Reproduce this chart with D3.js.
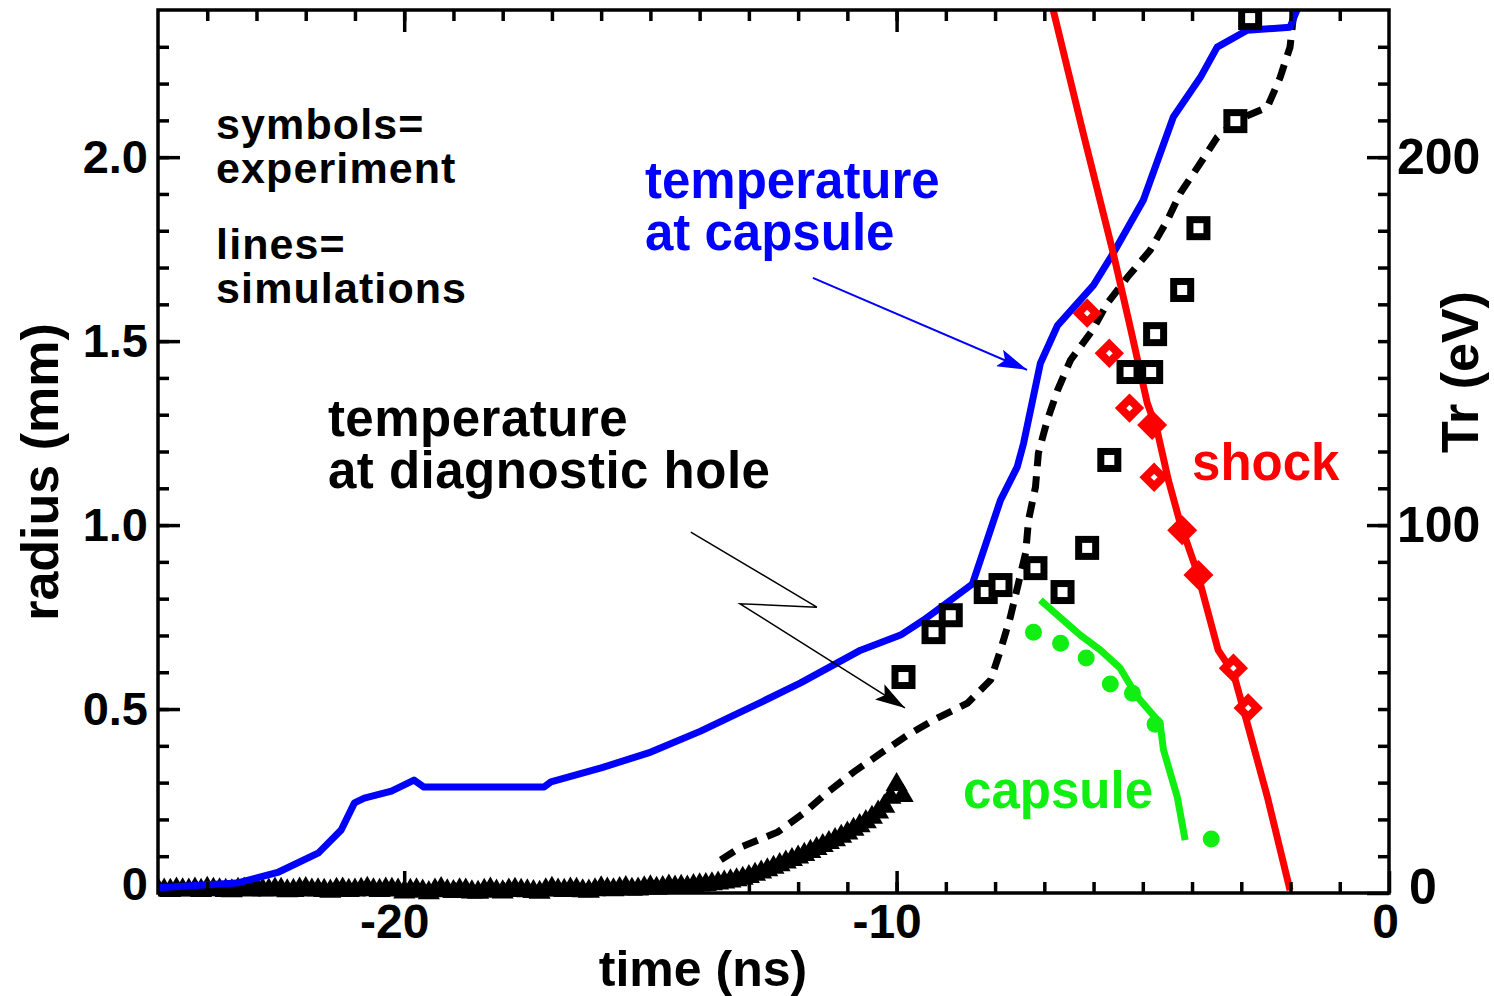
<!DOCTYPE html>
<html><head><meta charset="utf-8">
<script src="https://cdn.jsdelivr.net/npm/d3@7"></script>
<style>
body{margin:0;background:#fff}
svg{display:block}
text{font-family:"Liberation Sans",Arial,Helvetica,sans-serif;font-weight:bold}
</style>
</head><body>
<svg id="chart" width="1494" height="996"></svg>
<script>
// ---------------- data ----------------
// simulated radiation temperature at capsule (blue, Tr eV)
const capTime = [-25.0,-23.4,-22.55,-21.74,-21.28,-21.01,-20.81,-20.26,-19.8,-19.6,-18.38,-17.16,-17.02,-16.0,-14.99,-13.98,-12.96,-11.95,-10.73,-9.92,-9.45,-8.46,-7.89,-7.55,-7.42,-7.08,-6.73,-6.0,-5.6,-4.99,-4.38,-3.83,-3.49,-2.88,-2.01,-1.81];
const capTr   = [1.4,2.7,5.7,10.9,17.1,24.5,25.8,27.7,30.7,28.8,28.8,28.8,30.2,34.0,38.3,44.0,50.5,57.1,66.0,70.1,74.2,84.0,106.8,115.8,122.3,144.0,154.3,165.2,173.9,188.3,210.9,221.7,229.9,234.5,235.3,242];
// simulated temperature at diagnostic hole (black dashed, Tr eV)
const holeTime = [-13.57,-13.16,-12.41,-11.89,-11.40,-10.87,-10.32,-9.78,-9.25,-8.56,-8.09,-7.89,-7.69,-7.38,-7.32,-7.18,-7.12,-6.94,-6.73,-6.47,-6.02,-5.72,-5.31,-4.85,-4.50,-4.24,-3.83,-3.49,-3.08,-2.47,-2.21,-2.01,-1.91];
const holeTr   = [9.0,12.5,16.6,21.7,27.4,32.9,38.0,42.9,47.0,51.6,57.9,66.0,75.0,92.4,101.4,110.3,119.6,128.5,136.7,144.8,153.0,160.3,167.4,174.7,182.9,190.2,198.4,205.4,210.1,213.6,221.7,229.9,242];
// measured temperature at diagnostic hole (black triangles, Tr eV), every 0.125 ns
const triTime = [-25.0,-24.875,-24.75,-24.625,-24.5,-24.375,-24.25,-24.125,-24.0,-23.875,
                 -23.75,-23.625,-23.5,-23.375,-23.25,-23.125,-23.0,-22.875,-22.75,-22.625,
                 -22.5,-22.375,-22.25,-22.125,-22.0,-21.875,-21.75,-21.625,-21.5,-21.375,
                 -21.25,-21.125,-21.0,-20.875,-20.75,-20.625,-20.5,-20.375,-20.25,-20.125,
                 -20.0,-19.875,-19.75,-19.625,-19.5,-19.375,-19.25,-19.125,-19.0,-18.875,
                 -18.75,-18.625,-18.5,-18.375,-18.25,-18.125,-18.0,-17.875,-17.75,-17.625,
                 -17.5,-17.375,-17.25,-17.125,-17.0,-16.875,-16.75,-16.625,-16.5,-16.375,
                 -16.25,-16.125,-16.0,-15.875,-15.75,-15.625,-15.5,-15.375,-15.25,-15.125,
                 -15.0,-14.875,-14.75,-14.625,-14.5,-14.375,-14.25,-14.125,-14.0,
                 -13.875,-13.75,-13.625,-13.5,-13.375,-13.25,-13.125,-13.0,-12.875,-12.75,
                 -12.625,-12.5,-12.375,-12.25,-12.125,-12.0,-11.875,-11.75,-11.625,-11.5,
                 -11.375,-11.25,-11.125,-11.0,-10.875,-10.75,-10.625,-10.5,-10.375,-10.25,
                 -10.125,-10.0,-9.875];
const triTr   = [1.5,1.3,1.2,1.6,1.4,1.3,1.6,1.2,1.8,1.5,
                 1.4,1.2,1.1,1.5,1.6,1.3,1.9,1.4,1.3,1.6,
                 1.5,1.1,1.2,1.6,1.7,1.3,1.4,1.2,1.0,1.5,
                 1.6,1.2,1.3,1.5,1.8,1.4,1.2,1.6,1.5,1.3,
                 0.8,1.2,1.4,1.0,0.6,1.3,1.7,1.1,0.9,1.4,
                 1.3,0.8,0.7,1.2,1.6,1.0,0.8,1.3,1.5,1.2,
                 1.1,0.9,0.7,1.4,1.8,1.3,1.2,1.6,1.5,1.1,
                 1.0,1.4,1.9,1.6,1.4,1.7,2.0,1.5,1.6,1.9,
                 2.2,1.8,2.0,2.4,2.1,2.3,2.1,2.5,2.7,
                 2.8,3.0,3.2,3.5,3.8,4.1,4.5,5.0,5.6,6.2,
                 6.8,7.5,8.2,8.9,9.6,10.3,11.0,11.8,12.6,13.4,
                 14.2,15.0,15.9,16.8,17.8,18.8,19.9,21.1,22.5,24.1,
                 26.5,30.0,27.0];
// measured temperature at capsule (open squares, Tr eV)
const sqTime = [-9.86,-9.25,-8.90,-8.19,-7.89,-7.18,-6.63,-6.13,-5.68,-5.29,-4.83,-4.75,-4.20,-3.87,-3.12,-2.82];
const sqTr   = [58.7,70.9,75.5,81.8,83.7,88.3,81.8,93.8,117.7,141.6,141.6,151.9,163.9,180.7,209.8,237.8];
// simulated shock radius (red line, mm)
const shockTime = [-6.82,-6.21,-5.60,-5.25,-4.91,-4.71,-4.48,-4.24,-3.89,-3.47,-3.16,-2.88,-2.47,-2.01];
const shockR    = [2.40,2.065,1.739,1.535,1.332,1.258,1.122,1.005,0.870,0.660,0.598,0.462,0.261,0.008];
// measured shock radius (red diamonds, mm)
const shockOpenTime = [-6.13,-5.68,-5.27,-4.77,-3.16,-2.86];
const shockOpenR    = [1.576,1.467,1.318,1.130,0.611,0.503];
const shockFillTime = [-4.81,-4.20,-3.87];
const shockFillR    = [1.272,0.986,0.864];
// simulated capsule radius (green line, mm)
const capsTime = [-7.08,-6.27,-5.86,-5.46,-5.11,-4.65,-4.58,-4.30,-4.14];
const capsR    = [0.796,0.701,0.660,0.611,0.533,0.462,0.389,0.261,0.144];
// measured capsule radius (green dots, mm)
const capsDotTime = [-7.22,-6.67,-6.15,-5.66,-5.21,-4.75,-3.61];
const capsDotR    = [0.709,0.679,0.639,0.568,0.543,0.459,0.147];
// axes
const xMajor = [-20,-10,0];
const xMajorLabels = ["-20","-10","0"];
const xMinor = d3.range(-24,0,1);
const yLeftMajor = [0,0.5,1.0,1.5,2.0];
const yLeftLabels = ["0","0.5","1.0","1.5","2.0"];
const yLeftMinor = d3.range(0.1,2.4,0.1);
const yRightMajor = [0,100,200];
const yRightLabels = ["0","100","200"];
const yRightMinor = d3.range(10,240,10);

// ---------------- layout ----------------
const L=158, R=1389, T=10, B=893;
const svg = d3.select("#chart");
const x  = d3.scaleLinear().domain([-25,0]).range([L,R]);
const yL = d3.scaleLinear().domain([0,2.4]).range([B,T]);
const yR = d3.scaleLinear().domain([0,240]).range([B,T]);

const BLUE="#0000ff", RED="#ff0000", GREEN="#11ee11";

const defs = svg.append("defs");
defs.append("clipPath").attr("id","clip")
  .append("rect").attr("x",L).attr("y",T).attr("width",R-L).attr("height",B-T);
defs.append("clipPath").attr("id","clipLow")
  .append("rect").attr("x",L).attr("y",T).attr("width",R-L).attr("height",B-T+8);
defs.append("marker").attr("id","arrBlue").attr("markerUnits","userSpaceOnUse")
  .attr("viewBox","0 0 30 18").attr("refX",30).attr("refY",9)
  .attr("markerWidth",30).attr("markerHeight",18).attr("orient","auto")
  .append("path").attr("d","M0,0 L30,9 L0,18 L6,9 Z").attr("fill",BLUE);
defs.append("marker").attr("id","arrBlack").attr("markerUnits","userSpaceOnUse")
  .attr("viewBox","0 0 30 18").attr("refX",30).attr("refY",9)
  .attr("markerWidth",30).attr("markerHeight",18).attr("orient","auto")
  .append("path").attr("d","M0,0 L30,9 L0,18 L6,9 Z").attr("fill","#000");

// triangles (experiment, hole temperature) - they spill slightly below the axis
svg.append("g").attr("clip-path","url(#clipLow)")
  .selectAll("path").data(d3.zip(triTime,triTr)).join("path")
  .attr("transform",d=>`translate(${x(d[0])},${yR(d[1])+2})`)
  .attr("d",d3.symbol(d3.symbolTriangle,210)())
  .attr("fill","#000");

const plot = svg.append("g").attr("clip-path","url(#clip)");

// dashed simulated hole temperature
plot.append("path").datum(d3.zip(holeTime,holeTr))
  .attr("d",d3.line().x(d=>x(d[0])).y(d=>yR(d[1])))
  .attr("fill","none").attr("stroke","#000").attr("stroke-width",7)
  .attr("stroke-dasharray","16,10");

// blue simulated capsule temperature
plot.append("path").datum(d3.zip(capTime,capTr))
  .attr("d",d3.line().x(d=>x(d[0])).y(d=>yR(d[1])))
  .attr("fill","none").attr("stroke",BLUE).attr("stroke-width",7).attr("stroke-linejoin","round");

// green capsule radius line
plot.append("path").datum(d3.zip(capsTime,capsR))
  .attr("d",d3.line().x(d=>x(d[0])).y(d=>yL(d[1])))
  .attr("fill","none").attr("stroke",GREEN).attr("stroke-width",7).attr("stroke-linejoin","round");

// red shock line
plot.append("path").datum(d3.zip(shockTime,shockR))
  .attr("d",d3.line().x(d=>x(d[0])).y(d=>yL(d[1])))
  .attr("fill","none").attr("stroke",RED).attr("stroke-width",7).attr("stroke-linejoin","round");

// squares
plot.append("g").selectAll("rect").data(d3.zip(sqTime,sqTr)).join("rect")
  .attr("x",d=>x(d[0])-8.5).attr("y",d=>yR(d[1])-8.5)
  .attr("width",17).attr("height",17)
  .attr("fill","#fff").attr("stroke","#000").attr("stroke-width",7);

// red diamonds
const diamond = s => `M0,${-s} L${s},0 L0,${s} L${-s},0 Z`;
plot.append("g").selectAll("path").data(d3.zip(shockOpenTime,shockOpenR)).join("path")
  .attr("transform",d=>`translate(${x(d[0])},${yL(d[1])})`)
  .attr("d",diamond(9)).attr("fill","#fff").attr("stroke",RED).attr("stroke-width",8).attr("stroke-linejoin","miter");
plot.append("g").selectAll("path").data(d3.zip(shockFillTime,shockFillR)).join("path")
  .attr("transform",d=>`translate(${x(d[0])},${yL(d[1])})`)
  .attr("d",diamond(15)).attr("fill",RED);

// green dots
plot.append("g").selectAll("circle").data(d3.zip(capsDotTime,capsDotR)).join("circle")
  .attr("cx",d=>x(d[0])).attr("cy",d=>yL(d[1])).attr("r",8.5).attr("fill",GREEN);

// ---------------- axes ----------------
function styleAxis(g){
  g.select(".domain").remove();
  g.selectAll(".tick line").attr("stroke","#000").attr("stroke-width",3.5);
  g.selectAll("text").attr("fill","#000").style("font-family",'"Liberation Sans",Arial,sans-serif').style("font-weight","bold");
}
// bottom
svg.append("g").attr("transform",`translate(0,${B})`)
  .call(d3.axisBottom(x).tickValues(xMinor).tickSize(-11).tickFormat("")).call(styleAxis);
svg.append("g").attr("transform",`translate(0,${B})`)
  .call(d3.axisBottom(x).tickValues(xMajor).tickSize(-22).tickPadding(11).tickFormat((d,i)=>xMajorLabels[i]))
  .call(styleAxis)
  .call(g=>g.selectAll("text").style("font-size","48px").attr("dx",(d)=>d<0?-10:-4));
// top
svg.append("g").attr("transform",`translate(0,${T})`)
  .call(d3.axisTop(x).tickValues(xMinor).tickSize(-11).tickFormat("")).call(styleAxis);
svg.append("g").attr("transform",`translate(0,${T})`)
  .call(d3.axisTop(x).tickValues(xMajor.slice(0,2)).tickSize(-22).tickFormat("")).call(styleAxis);
// left
svg.append("g").attr("transform",`translate(${L},0)`)
  .call(d3.axisLeft(yL).tickValues(yLeftMinor).tickSize(-11).tickFormat("")).call(styleAxis);
svg.append("g").attr("transform",`translate(${L},0)`)
  .call(d3.axisLeft(yL).tickValues(yLeftMajor).tickSize(-22).tickPadding(10).tickFormat((d,i)=>yLeftLabels[i]))
  .call(styleAxis)
  .call(g=>g.selectAll("text").style("font-size","47px").attr("y",d=>d===0?-9:0));
// right
svg.append("g").attr("transform",`translate(${R},0)`)
  .call(d3.axisRight(yR).tickValues(yRightMinor).tickSize(-11).tickFormat("")).call(styleAxis);
svg.append("g").attr("transform",`translate(${R},0)`)
  .call(d3.axisRight(yR).tickValues(yRightMajor).tickSize(-22).tickPadding(8).tickFormat((d,i)=>yRightLabels[i]))
  .call(styleAxis)
  .call(g=>g.selectAll("text").style("font-size","50px").attr("y",d=>d===0?-6:0).attr("dx",d=>d===0?12:0));

// frame
svg.append("rect").attr("x",L).attr("y",T).attr("width",R-L).attr("height",B-T)
  .attr("fill","none").attr("stroke","#000").attr("stroke-width",3.5);

// axis titles
svg.append("text").attr("x",703).attr("y",986).attr("text-anchor","middle")
  .style("font-size","50px").text("time (ns)");
svg.append("text").attr("transform","translate(58,472) rotate(-90)").attr("text-anchor","middle")
  .style("font-size","52px").text("radius (mm)");
svg.append("text").attr("transform","translate(1478,372) rotate(-90)").attr("text-anchor","middle")
  .style("font-size","52px").text("Tr (eV)");

// ---------------- annotations ----------------
// multi-line labels: anchor (time, Tr of first baseline), line gap in Tr units
function label2(t, tr, gap, lines, color, size, spacing){
  const txt = svg.append("text").attr("x",x(t)).attr("y",yR(tr)).attr("fill",color)
    .style("font-size",size+"px").style("letter-spacing",(spacing||0)+"px");
  lines.forEach((s,i)=>{
    txt.append("tspan").attr("x",x(t)).attr("y",yR(tr-gap*i)).text(s);
  });
}
label2(-23.82,205.0,12.0,["symbols=","experiment"],"#000",43,1.1);
label2(-23.82,172.3,12.0,["lines=","simulations"],"#000",43,1.1);
label2(-15.11,188.9,14.1,["temperature","at capsule"],BLUE,51);
label2(-21.55,124.2,14.1,["temperature","at diagnostic hole"],"#000",51,0.5);
label2(-4.0,112.3,0,["shock"],RED,51);
label2(-8.65,23.1,0,["capsule"],GREEN,51);

// blue arrow
svg.append("path")
  .attr("d",d3.line()([[x(-11.70),yR(167.2)],[x(-7.35),yR(142.2)]]))
  .attr("stroke",BLUE).attr("stroke-width",2).attr("fill","none").attr("marker-end","url(#arrBlue)");
// black zigzag arrow
svg.append("path")
  .attr("d",d3.line()([[x(-14.18),yR(98.1)],[x(-11.62),yR(77.7)],[x(-13.18),yR(78.6)],[x(-9.83),yR(50.3)]]))
  .attr("stroke","#000").attr("stroke-width",1.5).attr("fill","none").attr("marker-end","url(#arrBlack)");
</script>
</body></html>
